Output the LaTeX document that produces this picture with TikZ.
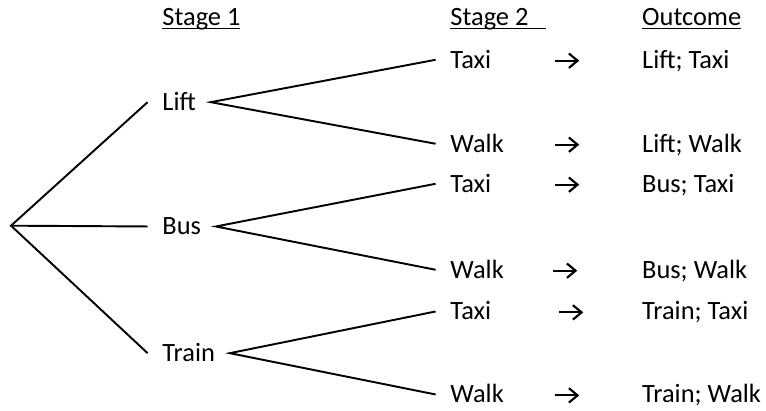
\documentclass[tikz,border=0pt]{standalone}
\usepackage{fontspec}
\usetikzlibrary{arrows.meta}
\setmainfont{Carlito}
% underline that sits just under the baseline, as a word processor draws it
\newcommand\ulined[1]{\setbox0\hbox{#1}\rlap{\rule[-1.4pt]{\wd0}{0.55pt}}\box0}

\begin{document}
\begin{tikzpicture}[x=0.4167pt, y=-0.4167pt,
	lbl/.style = {anchor=base west, inner xsep=6pt, inner ysep=0pt, text height=7.1pt, text depth=0pt, font=\fontsize{11}{13}\selectfont},
	arrbox/.style = {inner sep=0pt, minimum width=9.8pt, minimum height=5pt},
	arr/.style = {line width=0.9pt, -{Straight Barb[length=3.6pt, width=6pt, line width=0.9pt]}},
	branch/.style = {line width=0.8pt}]
	\useasboundingbox (0,0) rectangle (766,411);
	% headings
	\node [lbl] (head1) at (147.6,26) {\ulined{Stage 1}};
	\node [lbl] (head2) at (435.6,26) {\ulined{Stage 2\ \ \ }};
	\node [lbl] (head3) at (627.3,26) {\ulined{Outcome}};
	% first stage
	\coordinate (root) at (11,225.7);
	\node [lbl] (lift) at (147.6,110.7) {Lift};
	\node [lbl] (bus) at (147.6,235) {Bus};
	\node [lbl] (train) at (147.6,361.7) {Train};
	\draw [branch] (lift.west) -- (root) -- (train.west);
	\draw [branch] (root) -- (bus.west);
	% second stage and outcomes
	\foreach \n/\y/\ax/\mode/\first in {1/68.3/567/Taxi/Lift, 2/152.3/567/Walk/Lift, 3/192.3/567/Taxi/Bus,
		4/278.3/565/Walk/Bus, 5/320/571/Taxi/Train, 6/403/567/Walk/Train}{
		\node [lbl] (mode\n) at (435.6,\y) {\mode};
		\node [arrbox] (to\n) at (\ax,\y-7.6) {};
		\draw [arr] (to\n.west) -- (to\n.east);
		\node [lbl] (out\n) at (627.3,\y) {\first; \mode};
	}
	\draw [branch] (mode1.west) -- (lift.east) -- (mode2.west);
	\draw [branch] (mode3.west) -- (bus.east) -- (mode4.west);
	\draw [branch] (mode5.west) -- (train.east) -- (mode6.west);
\end{tikzpicture}
\end{document}
